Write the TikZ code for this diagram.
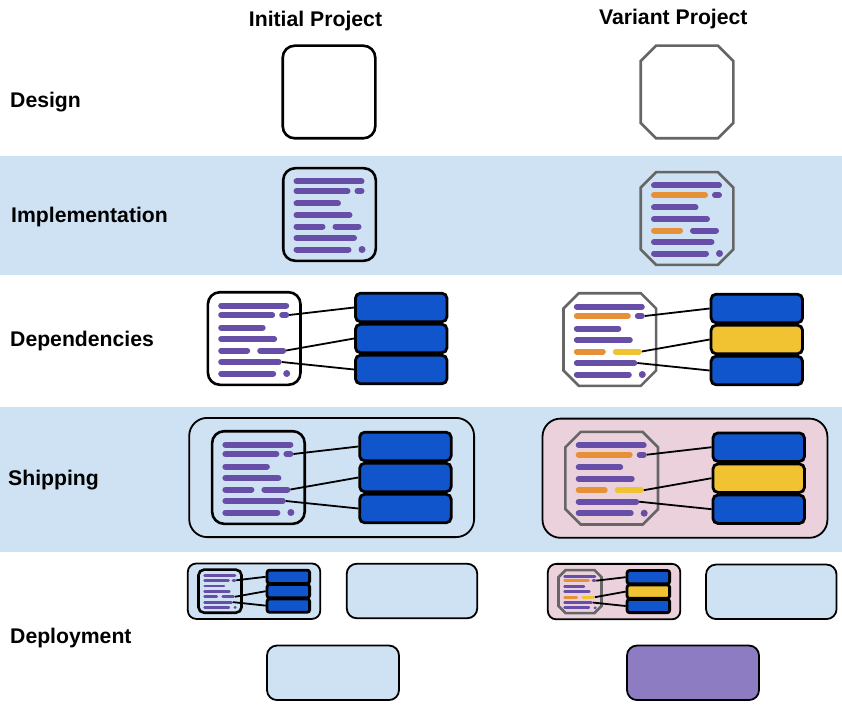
\documentclass[tikz,border=0pt]{standalone}
\usepackage{fontspec}
\setmainfont{Liberation Sans}
\definecolor{bandblue}{HTML}{CFE2F3}
\definecolor{shippink}{HTML}{EAD1DC}
\definecolor{textpurple}{HTML}{674EA7}
\definecolor{editorange}{HTML}{E69138}
\definecolor{linkyellow}{HTML}{F1C232}
\definecolor{libblue}{HTML}{1155CC}
\definecolor{framegray}{HTML}{666666}
\definecolor{deploypurple}{HTML}{8E7CC3}

\begin{document}
\begin{tikzpicture}[
  x=1pt, y=-1pt,
  font=\fontsize{21.2}{25}\selectfont\bfseries,
  band/.style={fill=bandblue},
  rowtext/.style={anchor=base west, inner sep=0pt},
  headtext/.style={anchor=base, inner sep=0pt},
  plainframe/.style={draw=black, line width=2.6pt},
  variantframe/.style={draw=framegray, line width=2.6pt},
  libbox/.style={draw=black, line width=2.8pt, inner sep=0pt},
  link/.style={black, line width=1.8pt},
  container/.style={draw=black, line width=1.8pt, inner sep=0pt},
]
\useasboundingbox (0,0) rectangle (842,711);
\fill[band] (0,156) rectangle (842,275);
\fill[band] (0,406.7) rectangle (842,551.7);

\node[headtext] (ini-head) at (315.5,26.7) {Initial Project};
\node[headtext] (var-head) at (673.3,25) {Variant Project};
\node[rowtext] (design) at (10,108) {Design};
\node[rowtext] (impl) at (11,222.7) {Implementation};
\node[rowtext] (deps) at (10,346) {Dependencies};
\node[rowtext] (ship) at (8,485.5) {Shipping};
\node[rowtext] (deploy) at (10,643) {Deployment};

\providecommand{\prjround}[2]{%
  \draw[plainframe, shift={(#1)}, scale=#2, rounded corners=#2*12pt]
    (-46.3,-46.3) rectangle (46.3,46.3);
}
\providecommand{\prjoct}[2]{%
  \draw[variantframe, shift={(#1)}, scale=#2]
    (-31,-46.3) -- (31,-46.3) -- (46.3,-31) -- (46.3,31) -- (31,46.3)
    -- (-31,46.3) -- (-46.3,31) -- (-46.3,-31) -- cycle;
}
\providecommand{\prjlines}[5]{%
  \begin{scope}[shift={(#2)}, scale=#3, line width=#3*6pt, line cap=round]
    \foreach \y/\xb in {-33/32, -11/8.5, 0.5/20, 23.5/24.5, 35/19}
      \draw[textpurple] (-33,\y) -- (\xb,\y);
    \draw[textpurple] (28,-23.5) -- (32,-23.5);
    \draw[#4] (-33,-23.5) -- (18,-23.5);
    \draw[#4] (-33,12) -- (-7,12);
    \draw[#5] (6,12) -- (29,12);
    \fill[textpurple] (32.5,35) circle (3.5);
    \coordinate (#1-a) at (35,-23.5);
    \coordinate (#1-b) at (32,12);
    \coordinate (#1-c) at (27.5,23.5);
  \end{scope}
}
\providecommand{\prjlibs}[4]{%
  \begin{scope}[shift={(#2)}, scale=#3,
      every node/.style={libbox, minimum width=#3*91.5pt,
        minimum height=#3*28.5pt, rounded corners=#3*5pt}]
    \node[fill=libblue] (#1-1) at (147,-31) {};
    \node[fill=#4] (#1-2) at (147,0) {};
    \node[fill=libblue] (#1-3) at (147,31) {};
  \end{scope}
  \draw[link] (#1-a) -- (#1-1.west);
  \draw[link] (#1-b) -- (#1-2.west);
  \draw[link] (#1-c) -- (#1-3.west);
}
\providecommand{\prjship}[4]{%
  \begin{scope}[shift={(#2)}, scale=#3]
    \node[container, fill=#4, minimum width=#3*284.9pt,
      minimum height=#3*119.2pt, rounded corners=#3*18pt] (#1) at (73.25,0) {};
  \end{scope}
}

% design
\prjround{329,92}{1}
\prjoct{687,92}{1}

% implementation
\prjlines{ini-impl}{329.5,214.5}{1}{textpurple}{textpurple}
\prjround{329.5,214.5}{1}
\prjlines{var-impl}{687,218.5}{1}{editorange}{textpurple}
\prjoct{687,218.5}{1}

% dependencies
\prjlines{ini-dep}{254.2,338.5}{1}{textpurple}{textpurple}
\prjround{254.2,338.5}{1}
\prjlibs{ini-dep}{254.2,338.5}{1}{libblue}
\prjlines{var-dep}{609.8,339.5}{1}{editorange}{linkyellow}
\prjoct{609.8,339.5}{1}
\prjlibs{var-dep}{609.8,339.5}{1}{linkyellow}

% shipping
\prjship{ini-ship}{258.4,477.5}{1}{bandblue}
\prjlines{ini-ship}{258.4,477.5}{1}{textpurple}{textpurple}
\prjround{258.4,477.5}{1}
\prjlibs{ini-ship}{258.4,477.5}{1}{libblue}
\prjship{var-ship}{611.7,478.2}{1}{shippink}
\prjlines{var-ship}{611.7,478.2}{1}{editorange}{linkyellow}
\prjoct{611.7,478.2}{1}
\prjlibs{var-ship}{611.7,478.2}{1}{linkyellow}

% deployment
\prjship{ini-mini}{220,591.2}{0.465}{bandblue}
\prjlines{ini-mini}{220,591.2}{0.465}{textpurple}{textpurple}
\prjround{220,591.2}{0.465}
\prjlibs{ini-mini}{220,591.2}{0.465}{libblue}
\prjship{var-mini}{580,591.6}{0.465}{shippink}
\prjlines{var-mini}{580,591.6}{0.465}{editorange}{linkyellow}
\prjoct{580,591.6}{0.465}
\prjlibs{var-mini}{580,591.6}{0.465}{linkyellow}

\node[container, fill=bandblue, minimum width=130.5pt, minimum height=54.5pt,
  rounded corners=10pt] (ini-spare) at (412,591) {};
\node[container, fill=bandblue, minimum width=132pt, minimum height=54.5pt,
  rounded corners=10pt] (ini-target) at (333,672.8) {};
\node[container, fill=bandblue, minimum width=130.5pt, minimum height=54.5pt,
  rounded corners=10pt] (var-spare) at (771.3,591.8) {};
\node[container, fill=deploypurple, minimum width=132pt, minimum height=54.5pt,
  rounded corners=10pt] (var-target) at (693,672.8) {};
\end{tikzpicture}
\end{document}
